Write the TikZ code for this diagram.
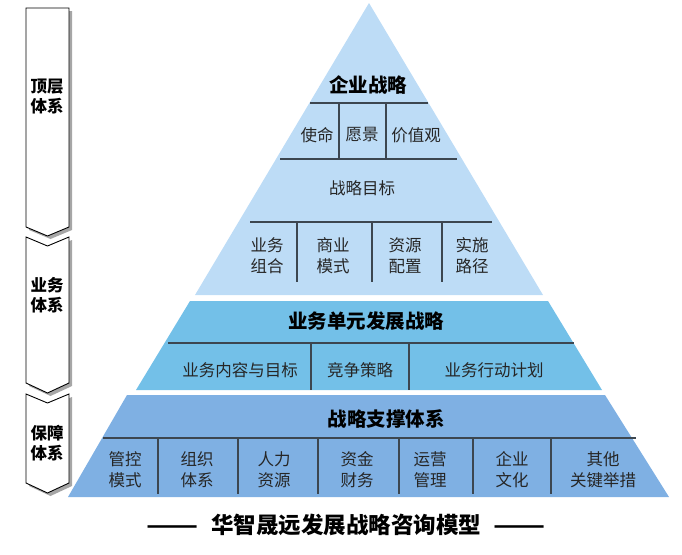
\documentclass[tikz,border=0pt]{standalone}
\usepackage{fontspec}
\setmainfont{Noto Sans CJK SC}
\usepackage{xcolor}
\usepackage{graphicx}
\usepackage{tikz}
\usetikzlibrary{positioning, calc}

\definecolor{topblue}{HTML}{BDDCF6}
\definecolor{midblue}{HTML}{73C0E8}
\definecolor{lowblue}{HTML}{7FB0E3}
\definecolor{divline}{HTML}{3C4650}

\newcommand{\longdash}{\scalebox{1.35}[1]{——}}

\begin{document}
\begin{tikzpicture}[
  x=1pt, y=-1pt,
  title/.style={font=\fontsize{19.5}{22}\selectfont\bfseries, text=black},
  item/.style={font=\fontsize{16.5}{21}\selectfont, align=center, text=black!85},
  side/.style={font=\fontsize{16.5}{20}\selectfont\bfseries, align=center},
  divider/.style={draw=divline, line width=1.3pt},
  tag/.style={draw=black, line width=0.9pt, fill=white},
  tagshadow/.style={fill=black!35}
]
  \useasboundingbox (0,0) rectangle (682,554);

  % pyramid bands
  \fill[topblue] (369,3) -- (543,295) -- (195,295) -- cycle;
  \fill[midblue] (190,301) -- (548,301) -- (602,390) -- (136,390) -- cycle;
  \fill[lowblue] (127,395) -- (605,395) -- (669,497) -- (68,497) -- cycle;

  % top band
  \node[title] (corp) at (368,85) {企业战略};
  \draw[divider] (310,103) -- (428,103) (339,103) -- (339,159) (386,103) -- (386,159)
    (280,159) -- (457,159);
  \node[item] (mission) at (317,135) {使命};
  \node[item] (vision) at (362,135) {愿景};
  \node[item] (values) at (416,135) {价值观};
  \node[item] (goal) at (362,188) {战略目标};
  \draw[divider] (250,222) -- (492,222) (297,222) -- (297,282) (372,222) -- (372,282)
    (442,222) -- (442,282);
  \node[item] (portfolio) at (267,256) {业务\\组合};
  \node[item] (model) at (333,256) {商业\\模式};
  \node[item] (resource) at (405,256) {资源\\配置};
  \node[item] (path) at (472,256) {实施\\路径};

  % middle band
  \node[title] (unit) at (366,321) {业务单元发展战略};
  \draw[divider] (168,343) -- (574,343) (311,343) -- (311,390) (409,343) -- (409,390);
  \node[item] (content) at (240,370) {业务内容与目标};
  \node[item] (compete) at (360,370) {竞争策略};
  \node[item] (action) at (494,370) {业务行动计划};

  % bottom band
  \node[title] (support) at (386,419) {战略支撑体系};
  \draw[divider] (103,438) -- (636,438);
  \foreach \xv in {158,238,318,399,473,551}
    \draw[divider] (\xv,438) -- (\xv,494);
  \node[item] (control) at (125,470) {管控\\模式};
  \node[item] (org) at (197,470) {组织\\体系};
  \node[item] (hr) at (274,470) {人力\\资源};
  \node[item] (fund) at (357,470) {资金\\财务};
  \node[item] (ops) at (430,470) {运营\\管理};
  \node[item] (culture) at (512,470) {企业\\文化};
  \node[item] (other) at (603,470) {其他\\关键举措};

  % left chevrons
  \fill[tagshadow] ($(26,8)+(3,3)$) -- ++(43,0) -- ++(0,219) -- ++(-21.5,9) -- ++(-21.5,-9) -- cycle;
  \fill[tagshadow] ($(26,237)+(3,3)$) -- ++(21.5,9) -- ++(21.5,-9) -- ++(0,146) -- ++(-21.5,10) -- ++(-21.5,-10) -- cycle;
  \fill[tagshadow] ($(26,394)+(3,3)$) -- ++(21.5,9) -- ++(21.5,-9) -- ++(0,89) -- ++(-21.5,10) -- ++(-21.5,-10) -- cycle;
  \draw[tag] (26,8) -- (69,8) -- (69,227) -- (47.5,236) -- (26,227) -- cycle;
  \draw[tag] (26,237) -- (47.5,246) -- (69,237) -- (69,383) -- (47.5,393) -- (26,383) -- cycle;
  \draw[tag] (26,394) -- (47.5,403) -- (69,394) -- (69,483) -- (47.5,493) -- (26,483) -- cycle;
  \node[side] (toplevel) at (47,97) {顶层\\体系};
  \node[side] (business) at (47,295) {业务\\体系};
  \node[side] (guarantee) at (47,443) {保障\\体系};

  % caption
  \node[font=\fontsize{22.5}{26}\selectfont\bfseries] (caption) at (346,525)
    {\longdash\hspace{12pt}华智晟远发展战略咨询模型\hspace{12pt}\longdash};
\end{tikzpicture}
\end{document}
